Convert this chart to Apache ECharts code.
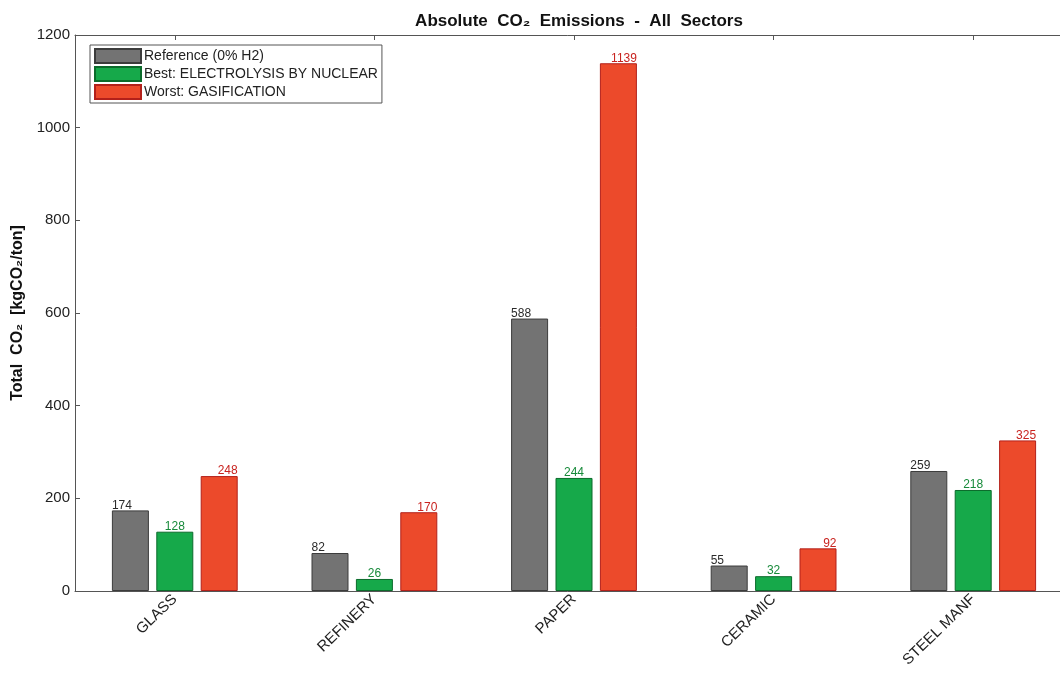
<!DOCTYPE html>
<html>
<head>
<meta charset="utf-8">
<script src="https://cdn.jsdelivr.net/npm/echarts@6/dist/echarts.min.js"></script>
<style>
  html, body { margin: 0; padding: 0; background: #fff; }
  #chart { width: 1060px; height: 676px; }
</style>
</head>
<body>
<div id="chart"></div>
<script>
  const categories = ['GLASS', 'REFINERY', 'PAPER', 'CERAMIC', 'STEEL MANF'];
  const referenceValues = [174, 82, 588, 55, 259];
  const bestValues = [128, 26, 244, 32, 218];
  const worstValues = [248, 170, 1139, 92, 325];
  const yTicks = [0, 200, 400, 600, 800, 1000, 1200];

  const font = 'Liberation Sans, Arial, sans-serif';

  function barSeries(name, data, fill, edge, labelColor, labelPos, align) {
    return {
      type: 'bar',
      name: name,
      data: data,
      barWidth: 37,
      barGap: '20%',
      itemStyle: {color: fill, borderColor: edge, borderWidth: 1},
      label: {
        show: true,
        position: labelPos,
        align: align,
        verticalAlign: 'bottom',
        color: labelColor,
        fontFamily: font,
        fontSize: 12
      }
    };
  }

  const chart = echarts.init(document.getElementById('chart'));
  chart.setOption({
    backgroundColor: '#ffffff',
    animation: false,
    title: {
      text: 'Absolute  CO₂  Emissions  -  All  Sectors',
      left: 574,
      top: 8,
      textAlign: 'center',
      textStyle: {fontFamily: font, fontSize: 17, fontWeight: 'bold', color: '#111'}
    },
    legend: {
      orient: 'vertical',
      left: 90,
      top: 45,
      padding: [3, 4, 3, 4],
      itemGap: 2,
      itemWidth: 46,
      itemHeight: 14,
      icon: 'rect',
      borderColor: '#555',
      borderWidth: 1,
      backgroundColor: '#fff',
      textStyle: {fontFamily: font, fontSize: 14, color: '#222', padding: [0, 0, 0, -2]},
      data: ['Reference (0% H2)', 'Best: ELECTROLYSIS BY NUCLEAR', 'Worst: GASIFICATION']
    },
    // plot runs past the right edge of the picture, as in the source figure
    grid: {left: 75, width: 998, top: 35, bottom: 85, outerBoundsMode: 'none'},
    xAxis: [{
      type: 'category',
      data: categories,
      axisLine: {lineStyle: {color: '#555', width: 1}},
      axisTick: {show: true, inside: true, alignWithLabel: true, length: 5, lineStyle: {color: '#555'}},
      axisLabel: {rotate: 44, margin: 6, fontFamily: font, fontSize: 15, color: '#222'}
    }, {
      type: 'category',
      position: 'top',
      data: categories,
      axisLine: {show: true, lineStyle: {color: '#555', width: 1}},
      axisTick: {show: true, inside: true, alignWithLabel: true, length: 5, lineStyle: {color: '#555'}},
      axisLabel: {show: false}
    }],
    yAxis: {
      type: 'value',
      min: yTicks[0],
      max: yTicks[yTicks.length - 1],
      interval: 200,
      name: 'Total  CO₂  [kgCO₂/ton]',
      nameLocation: 'middle',
      nameGap: 45,
      nameTextStyle: {fontFamily: font, fontSize: 16, fontWeight: 'bold', color: '#111'},
      axisLine: {show: true, lineStyle: {color: '#555', width: 1}},
      axisTick: {show: true, inside: true, length: 5, lineStyle: {color: '#555'}},
      axisLabel: {fontFamily: font, fontSize: 15, color: '#222', margin: 5, formatter: v => String(v)},
      splitLine: {show: false}
    },
    series: [
      barSeries('Reference (0% H2)', referenceValues, '#737373', '#3c3c3c', '#2a2a2a', [0, 1], 'left'),
      barSeries('Best: ELECTROLYSIS BY NUCLEAR', bestValues, '#16a94a', '#0b6b2b', '#178a3a', ['50%', 1], 'center'),
      barSeries('Worst: GASIFICATION', worstValues, '#ec4a2b', '#b3201a', '#c8231f', ['100%', 1], 'right')
    ]
  });
</script>
</body>
</html>
